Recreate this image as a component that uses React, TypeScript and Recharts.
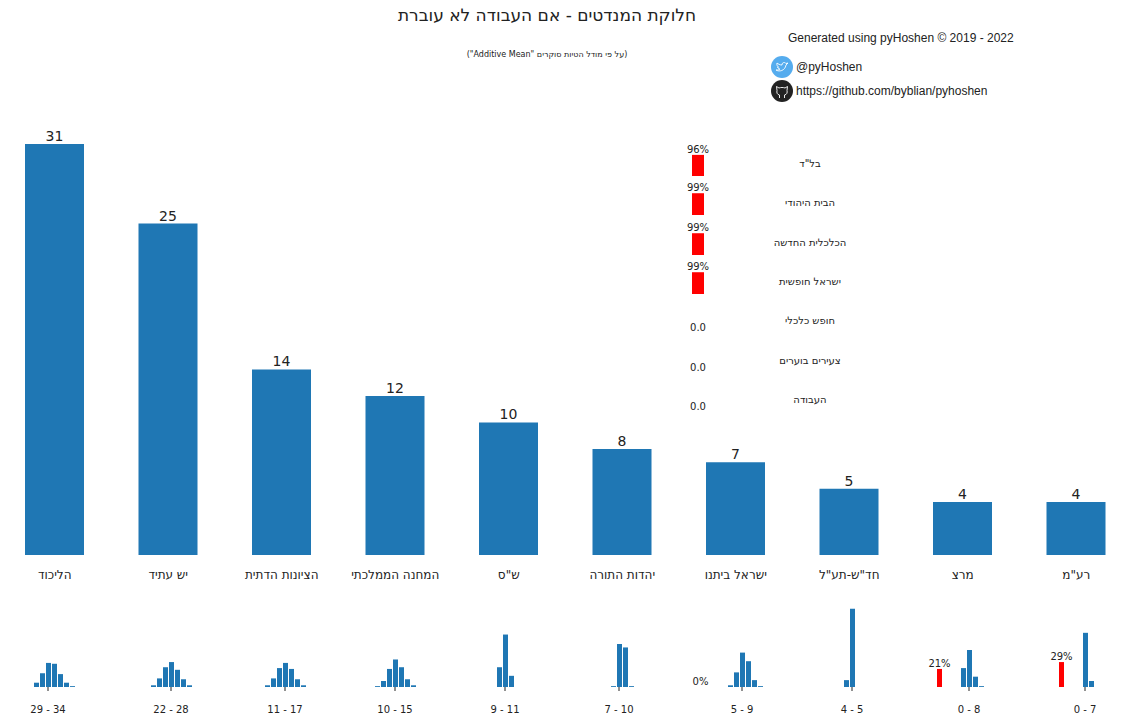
import React from "react";
import { BarChart, Bar, XAxis, YAxis, LabelList, Cell } from "recharts";

// main seat distribution
const parties = [
  "הליכוד",
  "יש עתיד",
  "הציונות הדתית",
  "המחנה הממלכתי",
  'ש"ס',
  "יהדות התורה",
  "ישראל ביתנו",
  'חד"ש-תע"ל',
  "מרצ",
  'רע"מ',
];
const seats = [31, 25, 14, 12, 10, 8, 7, 5, 4, 4];
const seatRanges = ["29 - 34", "22 - 28", "11 - 17", "10 - 15", "9 - 11", "7 - 10", "5 - 9", "4 - 5", "0 - 8", "0 - 7"];
const medianSeats = [31, 25, 14, 12, 10, 8, 7, 5, 5, 4];

// per-party histograms (seats -> % of simulations)
const distSeats = [
  [29, 30, 31, 32, 33, 34, 35],
  [22, 23, 24, 25, 26, 27, 28],
  [11, 12, 13, 14, 15, 16, 17],
  [9, 10, 11, 12, 13, 14, 15],
  [9, 10, 11],
  [7, 8, 9, 10],
  [5, 6, 7, 8, 9, 10],
  [4, 5],
  [4, 5, 6, 7],
  [4, 5],
];
const distProbs = [
  [5, 16, 28, 27, 15, 5, 1],
  [2, 10, 23, 29, 20, 9, 2],
  [2, 10, 22, 28, 21, 9, 2],
  [1, 7, 21, 32, 23, 9, 2],
  [23, 61, 13],
  [1, 50, 46, 1],
  [2, 17, 40, 30, 8, 1],
  [8, 91],
  [22, 43, 12, 1],
  [63, 7],
];
// chance of falling below the threshold (null = not shown)
const failProbs: (number | null)[] = [null, null, null, null, null, null, 0, null, 21, 29];

// parties that are expected to stay out
const belowParties = ['בל"ד', "הבית היהודי", "הכלכלית החדשה", "ישראל חופשית", "חופש כלכלי", "צעירים בוערים", "העבודה"];
const belowProbs = [96, 99, 99, 99, 0, 0, 0];

// layout
const miniCenters = [48, 171, 285, 395, 505, 619, 742, 852, 969, 1085];
const BLUE = "#1f77b4";
const RED = "#ff0000";
const INK = "#222";
const FONT = "DejaVu Sans";

const mainData = parties.map((p, i) => ({ party: p, seats: seats[i] }));

const MiniHist = ({ i }: { i: number }) => {
  const m = medianSeats[i];
  const rows = distSeats[i].map((s, j) => ({ seat: s, p: distProbs[i][j], fail: false, lbl: "" }));
  const f = failProbs[i];
  if (f !== null) rows.unshift({ seat: 0, p: f, fail: true, lbl: `${f}%` });
  return (
    <div style={{ position: "absolute", left: miniCenters[i] - 51, top: 600 }}>
      <BarChart width={102} height={122} data={rows} margin={{ top: 1, right: 0, bottom: 0, left: 0 }}>
        <XAxis
          type="number"
          dataKey="seat"
          domain={[m - 8.5, m + 8.5]}
          ticks={[m]}
          interval={0}
          allowDataOverflow
          tickFormatter={() => seatRanges[i]}
          axisLine={false}
          tickSize={4}
          tickMargin={15}
          height={35}
          tickLine={{ stroke: INK }}
          tick={{ fontSize: 10, fill: INK, fontFamily: FONT }}
        />
        <YAxis hide domain={[0, 100]} />
        <Bar dataKey="p" barSize={5} minPointSize={0.01} isAnimationActive={false}>
          {rows.map((r, k) => (
            <Cell key={k} fill={r.fail ? RED : BLUE} />
          ))}
          <LabelList dataKey="lbl" position="top" offset={2} fontSize={10} fill={INK} fontFamily={FONT} />
        </Bar>
      </BarChart>
    </div>
  );
};

const BelowRow = ({ k }: { k: number }) => {
  const base = 176 + 39.3 * k;
  const p = belowProbs[k];
  return (
    <>
      <div style={{ position: "absolute", left: 678, top: base - 40 }}>
        <BarChart width={40} height={40} data={[{ name: belowParties[k], p }]} margin={{ top: 18, right: 0, bottom: 0, left: 0 }}>
          <XAxis dataKey="name" hide />
          <YAxis hide domain={[0, 100]} />
          <Bar dataKey="p" fill={RED} barSize={12} minPointSize={0.01} isAnimationActive={false}>
            <LabelList
              dataKey="p"
              position="top"
              offset={2}
              fontSize={10}
              fill={INK}
              fontFamily={FONT}
              formatter={(v: any) => (v > 0 ? `${v}%` : "0.0")}
            />
          </Bar>
        </BarChart>
      </div>
      <div
        style={{
          position: "absolute",
          left: 740,
          width: 140,
          top: base - 18,
          lineHeight: "12px",
          fontSize: 10,
          textAlign: "center",
          color: INK,
        }}
      >
        {belowParties[k]}
      </div>
    </>
  );
};

export default function App() {
  return (
    <div
      style={{
        position: "absolute",
        left: 0,
        top: 0,
        width: 1130,
        height: 723,
        overflow: "hidden",
        background: "#fff",
        fontFamily: FONT,
        color: INK,
      }}
    >
      <div style={{ position: "absolute", left: -2, top: 0 }}>
        <BarChart width={1135} height={600} data={mainData} margin={{ top: 144, right: 0, bottom: 5, left: 0 }}>
          <XAxis
            dataKey="party"
            axisLine={false}
            tickLine={false}
            interval={0}
            tickMargin={9}
            height={40}
            tick={{ fontSize: 12, fill: INK, fontFamily: FONT }}
          />
          <YAxis hide domain={[0, 31]} />
          <Bar dataKey="seats" fill={BLUE} barSize={59} isAnimationActive={false}>
            <LabelList dataKey="seats" position="top" offset={3} fontSize={14} fill={INK} fontFamily={FONT} />
          </Bar>
        </BarChart>
      </div>

      {parties.map((_, i) => (
        <MiniHist key={i} i={i} />
      ))}

      {belowParties.map((_, k) => (
        <BelowRow key={k} k={k} />
      ))}

      <div style={{ position: "absolute", left: 297, width: 500, top: 5, fontSize: 17, lineHeight: "20px", textAlign: "center" }}>
        חלוקת המנדטים - אם העבודה לא עוברת
      </div>
      <div dir="rtl" style={{ position: "absolute", left: 397, width: 300, top: 50, fontSize: 8, lineHeight: "10px", textAlign: "center" }}>
        (על פי מודל הטיות סוקרים "Additive Mean")
      </div>

      <div style={{ position: "absolute", left: 788, top: 31, fontSize: 12, lineHeight: "14px", fontFamily: "Liberation Sans", whiteSpace: "nowrap" }}>
        Generated using pyHoshen © 2019 - 2022
      </div>
      <svg style={{ position: "absolute", left: 770, top: 55 }} width={24} height={48}>
        <circle cx={12} cy={12} r={11} fill="#55acee" />
        <path
          d="M6 15 C9 17 15 16 16 10 L18 8 L16 8.5 C15 7 12 7 12 10 C10 10 8 9 7 8 C6.5 10 7.5 11.5 8.5 12 L7.5 12 C8 13.5 9 14 10 14 C9 15 7.5 15.2 6 15 Z"
          fill="none"
          stroke="#fff"
          strokeWidth={0.9}
        />
        <circle cx={12} cy={36} r={11} fill="#222" />
        <path
          d="M9.5 43 L9.5 40 C7 39.5 6.5 37.5 7 35.5 L6.5 31.5 L9 33 C11 32.3 13 32.3 15 33 L17.5 31.5 L17 35.5 C17.5 37.5 17 39.5 14.5 40 L14.5 43"
          fill="none"
          stroke="#fff"
          strokeWidth={0.9}
        />
      </svg>
      <div style={{ position: "absolute", left: 796, top: 60, fontSize: 12, lineHeight: "14px", fontFamily: "Liberation Sans" }}>
        @pyHoshen
      </div>
      <div style={{ position: "absolute", left: 796, top: 84, fontSize: 12, lineHeight: "14px", fontFamily: "Liberation Sans" }}>
        https://github.com/byblian/pyhoshen
      </div>
    </div>
  );
}
